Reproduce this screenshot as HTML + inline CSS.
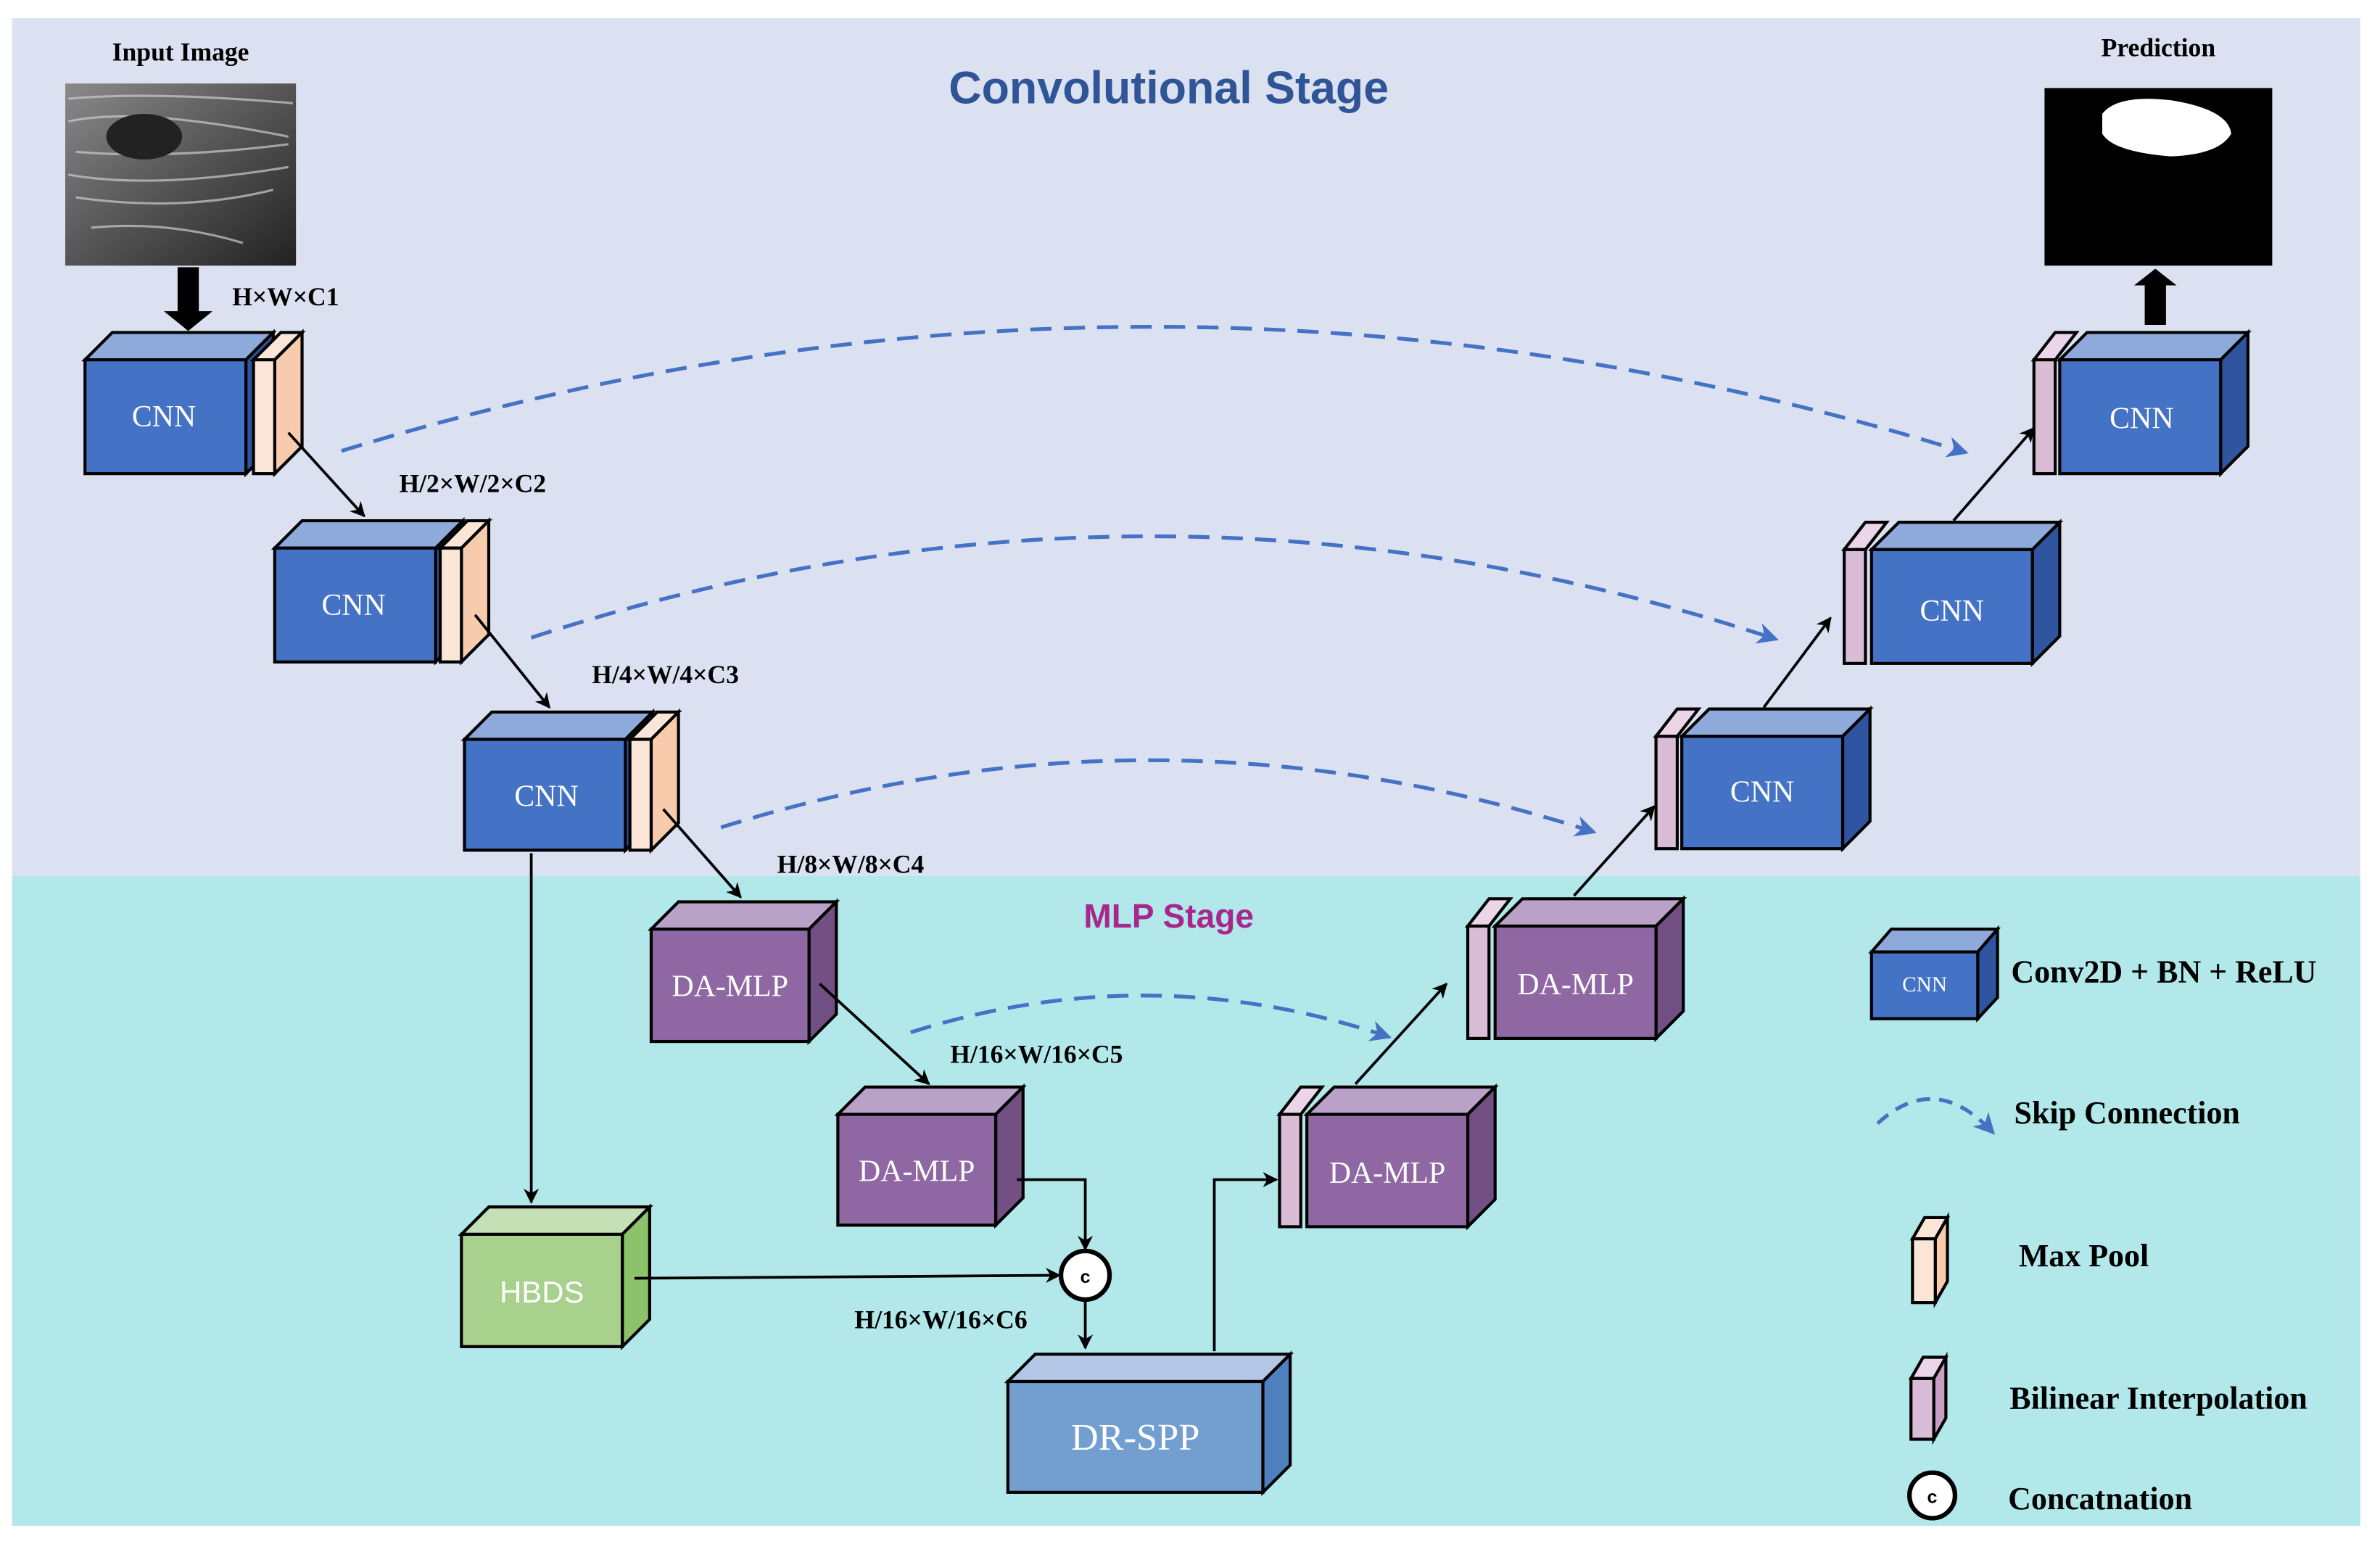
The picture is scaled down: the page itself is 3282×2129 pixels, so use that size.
<!DOCTYPE html>
<html><head><meta charset="utf-8"><style>
html,body{margin:0;padding:0;background:#fff}
svg{display:block}
text{font-family:"Liberation Serif",serif}
</style></head><body>
<svg width="3282" height="2129" viewBox="0 0 1568 1017" preserveAspectRatio="none" xmlns="http://www.w3.org/2000/svg">
<defs>
<marker id="ah" markerWidth="10" markerHeight="10" refX="9" refY="5" orient="auto" markerUnits="userSpaceOnUse"><path d="M0,0 L10,5 L0,10 L3,5 z" fill="#000"/></marker>
<marker id="bh" markerWidth="14" markerHeight="14" refX="12" refY="7" orient="auto" markerUnits="userSpaceOnUse"><path d="M0,0 L14,7 L0,14 L4,7 z" fill="#4472c4"/></marker>
<linearGradient id="us" x1="0" y1="0" x2="1" y2="1"><stop offset="0" stop-color="#8a8a8a"/><stop offset="0.5" stop-color="#555"/><stop offset="1" stop-color="#222"/></linearGradient>
</defs>
<rect x="8" y="12" width="1547" height="565" fill="#dce1f2"/>
<rect x="8" y="577" width="1547" height="428" fill="#b2e8ea"/>

<text x="770" y="68" text-anchor="middle" font-weight="bold" font-size="30" fill="#2f5597" style="font-family:'Liberation Sans',sans-serif">Convolutional Stage</text>
<text x="770" y="611" text-anchor="middle" font-weight="bold" font-size="22" fill="#a8278c" style="font-family:'Liberation Sans',sans-serif">MLP Stage</text>

<text x="119" y="40" text-anchor="middle" font-weight="bold" font-size="17">Input Image</text>
<rect x="43" y="55" width="152" height="120" fill="url(#us)"/>
<g stroke="#ccc" stroke-width="1.5" fill="none" opacity="0.7">
<path d="M45,65 Q100,60 193,68"/><path d="M45,80 Q90,70 190,90"/><path d="M50,100 Q110,105 190,95"/><path d="M45,115 Q100,125 190,110"/><path d="M50,130 Q120,140 180,125"/><path d="M60,150 Q110,145 160,160"/>
</g>
<ellipse cx="95" cy="90" rx="25" ry="15" fill="#222"/>
<text x="1422" y="37" text-anchor="middle" font-weight="bold" font-size="17">Prediction</text>
<rect x="1347" y="58" width="150" height="117" fill="#000"/>
<path d="M1385,75 Q1395,62 1430,66 Q1468,72 1470,88 Q1462,102 1430,103 Q1392,100 1385,88 z" fill="#fff"/>

<rect x="117" y="176" width="14" height="30" fill="#000"/><path d="M108,205 L140,205 L124,218 z" fill="#000"/>
<rect x="1413" y="187" width="14" height="27" fill="#000"/><path d="M1406,188 L1434,188 L1420,177 z" fill="#000"/>

<g stroke="#000" stroke-width="2" stroke-linejoin="miter">
<polygon points="56,237 74,219 180,219 162,237" fill="#8eaadb"/>
<polygon points="162,237 180,219 180,294 162,312" fill="#2f55a0"/>
<rect x="56" y="237" width="106" height="75" fill="#4472c4"/>
<polygon points="167,237 185,219 199,219 181,237" fill="#fbe5d6"/>
<polygon points="181,237 199,219 199,294 181,312" fill="#f8cbad"/>
<rect x="167" y="237" width="14" height="75" fill="#fbe5d6"/>
<polygon points="181,361 199,343 305,343 287,361" fill="#8eaadb"/>
<polygon points="287,361 305,343 305,418 287,436" fill="#2f55a0"/>
<rect x="181" y="361" width="106" height="75" fill="#4472c4"/>
<polygon points="290,361 308,343 322,343 304,361" fill="#fbe5d6"/>
<polygon points="304,361 322,343 322,418 304,436" fill="#f8cbad"/>
<rect x="290" y="361" width="14" height="75" fill="#fbe5d6"/>
<polygon points="306,487 324,469 430,469 412,487" fill="#8eaadb"/>
<polygon points="412,487 430,469 430,542 412,560" fill="#2f55a0"/>
<rect x="306" y="487" width="106" height="73" fill="#4472c4"/>
<polygon points="415,487 433,469 447,469 429,487" fill="#fbe5d6"/>
<polygon points="429,487 447,469 447,542 429,560" fill="#f8cbad"/>
<rect x="415" y="487" width="14" height="73" fill="#fbe5d6"/>
<polygon points="429,612 447,594 551,594 533,612" fill="#b9a1c8"/>
<polygon points="533,612 551,594 551,668 533,686" fill="#735084"/>
<rect x="429" y="612" width="104" height="74" fill="#8e67a3"/>
<polygon points="552,734 570,716 674,716 656,734" fill="#b9a1c8"/>
<polygon points="656,734 674,716 674,789 656,807" fill="#735084"/>
<rect x="552" y="734" width="104" height="73" fill="#8e67a3"/>
<polygon points="304,813 322,795 428,795 410,813" fill="#c5e0b4"/>
<polygon points="410,813 428,795 428,869 410,887" fill="#8cc36a"/>
<rect x="304" y="813" width="106" height="74" fill="#a9d18e"/>
<polygon points="664,910 682,892 850,892 832,910" fill="#b4c7e7"/>
<polygon points="832,910 850,892 850,965 832,983" fill="#4e80bf"/>
<rect x="664" y="910" width="168" height="73" fill="#729fcf"/>
<polygon points="843,734 857,716 871,716 857,734" fill="#ead6e8"/>
<rect x="843" y="734" width="14" height="74" fill="#dbbcd6"/>
<polygon points="861,734 879,716 985,716 967,734" fill="#b9a1c8"/>
<polygon points="967,734 985,716 985,790 967,808" fill="#735084"/>
<rect x="861" y="734" width="106" height="74" fill="#8e67a3"/>
<polygon points="967,610 981,592 995,592 981,610" fill="#ead6e8"/>
<rect x="967" y="610" width="14" height="74" fill="#dbbcd6"/>
<polygon points="985,610 1003,592 1109,592 1091,610" fill="#b9a1c8"/>
<polygon points="1091,610 1109,592 1109,666 1091,684" fill="#735084"/>
<rect x="985" y="610" width="106" height="74" fill="#8e67a3"/>
<polygon points="1091,485 1105,467 1119,467 1105,485" fill="#ead6e8"/>
<rect x="1091" y="485" width="14" height="74" fill="#dbbcd6"/>
<polygon points="1108,485 1126,467 1232,467 1214,485" fill="#8eaadb"/>
<polygon points="1214,485 1232,467 1232,541 1214,559" fill="#2f55a0"/>
<rect x="1108" y="485" width="106" height="74" fill="#4472c4"/>
<polygon points="1215,362 1229,344 1243,344 1229,362" fill="#ead6e8"/>
<rect x="1215" y="362" width="14" height="75" fill="#dbbcd6"/>
<polygon points="1233,362 1251,344 1357,344 1339,362" fill="#8eaadb"/>
<polygon points="1339,362 1357,344 1357,419 1339,437" fill="#2f55a0"/>
<rect x="1233" y="362" width="106" height="75" fill="#4472c4"/>
<polygon points="1340,237 1354,219 1368,219 1354,237" fill="#ead6e8"/>
<rect x="1340" y="237" width="14" height="75" fill="#dbbcd6"/>
<polygon points="1357,237 1375,219 1481,219 1463,237" fill="#8eaadb"/>
<polygon points="1463,237 1481,219 1481,294 1463,312" fill="#2f55a0"/>
<rect x="1357" y="237" width="106" height="75" fill="#4472c4"/>
<polygon points="1233,627 1246,612 1316,612 1303,627" fill="#8eaadb"/>
<polygon points="1303,627 1316,612 1316,657 1303,671" fill="#2f55a0"/>
<rect x="1233" y="627" width="70" height="44" fill="#4472c4"/>
<polygon points="1260,816 1268,802 1283,802 1275,816" fill="#fbe5d6"/>
<polygon points="1275,816 1283,802 1283,844 1275,858" fill="#f8cbad"/>
<rect x="1260" y="816" width="15" height="42" fill="#fbe5d6"/>
<polygon points="1259,908 1267,894 1282,894 1274,908" fill="#ead6e8"/>
<polygon points="1274,908 1282,894 1282,934 1274,948" fill="#c99ec4"/>
<rect x="1259" y="908" width="15" height="40" fill="#dbbcd6"/>
</g>

<g fill="#fff" font-size="20" text-anchor="middle">
<text x="108" y="281">CNN</text><text x="233" y="405">CNN</text><text x="360" y="531">CNN</text>
<text x="481" y="656">DA-MLP</text><text x="604" y="778">DA-MLP</text>
<text x="357" y="858" style="font-family:'Liberation Sans',sans-serif">HBDS</text>
<text x="748" y="955" font-size="25">DR-SPP</text>
<text x="914" y="779">DA-MLP</text><text x="1038" y="655">DA-MLP</text>
<text x="1161" y="528">CNN</text><text x="1286" y="409">CNN</text><text x="1411" y="282">CNN</text>
<text x="1268" y="653" font-size="14">CNN</text>
</g>

<g stroke="#000" stroke-width="1.8" fill="none" marker-end="url(#ah)">
<path d="M190,285 L240,340"/><path d="M313,405 L362,466"/><path d="M437,533 L488,591"/><path d="M540,648 L612,714"/>
<path d="M670,777 L715,777 L715,823"/><path d="M418,842 L698,840"/><path d="M715,857 L715,888"/>
<path d="M350,562 L350,792"/><path d="M800,890 L800,777 L841,777"/>
<path d="M893,714 L953,648"/><path d="M1037,590 L1090,531"/><path d="M1162,466 L1206,407"/><path d="M1287,343 L1340,282"/>
</g>
<circle cx="715" cy="840" r="16" fill="#fff" stroke="#000" stroke-width="3"/>
<text x="715" y="845" text-anchor="middle" font-size="12" font-weight="bold" style="font-family:'Liberation Sans',sans-serif">c</text>
<circle cx="1273" cy="985" r="15" fill="#fff" stroke="#000" stroke-width="3"/>
<text x="1273" y="990" text-anchor="middle" font-size="12" font-weight="bold" style="font-family:'Liberation Sans',sans-serif">c</text>

<g stroke="#4472c4" stroke-width="2.5" fill="none" stroke-dasharray="14,8" marker-end="url(#bh)">
<path d="M225,297 Q760,133 1295,298"/>
<path d="M350,420 Q760,286 1170,421"/>
<path d="M475,545 Q762,455 1050,548"/>
<path d="M600,680 Q758,630 915,683"/>
<path d="M1237,740 Q1275,705 1313,746" stroke-dasharray="9,6"/>
</g>

<g font-weight="bold" font-size="17">
<text x="153" y="201">H×W×C1</text><text x="263" y="324">H/2×W/2×C2</text><text x="390" y="450">H/4×W/4×C3</text>
<text x="512" y="575">H/8×W/8×C4</text><text x="626" y="700">H/16×W/16×C5</text><text x="563" y="875">H/16×W/16×C6</text>
</g>
<g font-weight="bold" font-size="21">
<text x="1325" y="647">Conv2D + BN + ReLU</text>
<text x="1327" y="740">Skip Connection</text>
<text x="1330" y="834">Max Pool</text>
<text x="1324" y="928">Bilinear Interpolation</text>
<text x="1323" y="994">Concatnation</text>
</g>
</svg>
</body></html>
